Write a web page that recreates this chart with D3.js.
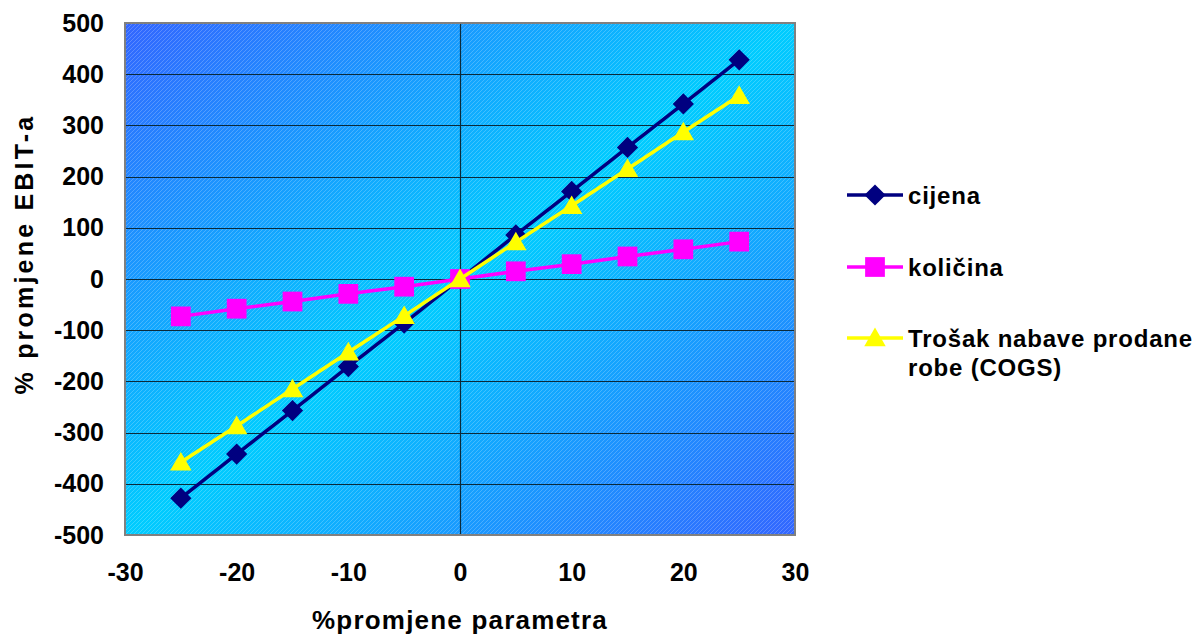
<!DOCTYPE html>
<html>
<head>
<meta charset="utf-8">
<script src="https://cdn.jsdelivr.net/npm/d3@7"></script>
<style>
  body { margin: 0; background: #fff; }
  text { font-family: "Liberation Sans", Arial, sans-serif; font-weight: bold; fill: #000; }
</style>
</head>
<body>
<div id="chart"></div>
<script>
// data
var xValues = [-25, -20, -15, -10, -5, 0, 5, 10, 15, 20, 25];
var cijena = [-428, -342, -257, -171, -86, 0, 86, 171, 257, 342, 428];
var kolicina = [-73, -58, -44, -29, -15, 0, 15, 29, 44, 58, 73];
var cogs = [-358, -287, -215, -143, -72, 0, 72, 143, 215, 287, 358];
var seriesNames = ['cijena', 'količina', 'Trošak nabave prodane|robe (COGS)'];
var xTicks = [-30, -20, -10, 0, 10, 20, 30];
var yTicks = [-500, -400, -300, -200, -100, 0, 100, 200, 300, 400, 500];

var W = 1197, H = 635;
var margin = { top: 23, right: 402, bottom: 100, left: 125 };
var width = W - margin.left - margin.right;   // 670
var height = H - margin.top - margin.bottom;  // 512

var svg = d3.select('#chart').append('svg')
  .attr('width', W).attr('height', H);

var defs = svg.append('defs');
var grad = defs.append('linearGradient')
  .attr('id', 'bg').attr('x1', 0).attr('y1', 0).attr('x2', 1).attr('y2', 1);
grad.append('stop').attr('offset', '0%').attr('stop-color', '#3366ff');
grad.append('stop').attr('offset', '50%').attr('stop-color', '#00ccff');
grad.append('stop').attr('offset', '100%').attr('stop-color', '#3366ff');

var hatch = defs.append('pattern')
  .attr('id', 'hatch').attr('patternUnits', 'userSpaceOnUse')
  .attr('width', 4).attr('height', 4);
hatch.append('path')
  .attr('d', 'M-1,1 l2,-2 M0,4 l4,-4 M3,5 l2,-2')
  .attr('stroke', '#ffffff').attr('stroke-width', 0.6).attr('opacity', 0.35);

var g = svg.append('g')
  .attr('transform', 'translate(' + margin.left + ',' + margin.top + ')');

var x = d3.scaleLinear().domain([-30, 30]).range([0, width]);
var y = d3.scaleLinear().domain([-500, 500]).range([height, 0]);

// plot area
g.append('rect').attr('width', width).attr('height', height).attr('fill', 'url(#bg)');
g.append('rect').attr('width', width).attr('height', height).attr('fill', 'url(#hatch)');

// horizontal gridlines
g.append('g').selectAll('line').data(yTicks.slice(1, -1)).enter().append('line')
  .attr('x1', 0).attr('x2', width)
  .attr('y1', function(d) { return Math.round(y(d)) + 0.5; })
  .attr('y2', function(d) { return Math.round(y(d)) + 0.5; })
  .attr('stroke', '#0a2a3a').attr('stroke-width', 1.2);

// vertical axis line at x = 0
g.append('line')
  .attr('x1', Math.round(x(0)) + 0.5).attr('x2', Math.round(x(0)) + 0.5)
  .attr('y1', 0).attr('y2', height)
  .attr('stroke', '#0a2a3a').attr('stroke-width', 1.2);

// border
g.append('rect').attr('width', width).attr('height', height)
  .attr('fill', 'none').attr('stroke', '#808080').attr('stroke-width', 2);

// axes (labels only), plain hyphen for negatives like the original
var plain = function(d) { return String(d); };

var yAxis = g.append('g')
  .call(d3.axisLeft(y).tickValues(yTicks).tickFormat(plain).tickSize(0).tickPadding(21));
yAxis.select('.domain').remove();
yAxis.selectAll('text')
  .style('font-size', '25px').style('font-family', '"Liberation Sans", Arial, sans-serif')
  .style('font-weight', 'bold').attr('fill', '#000');

var xAxis = g.append('g').attr('transform', 'translate(0,' + height + ')')
  .call(d3.axisBottom(x).tickValues(xTicks).tickFormat(plain).tickSize(0).tickPadding(28));
xAxis.select('.domain').remove();
xAxis.selectAll('text')
  .style('font-size', '25px').style('font-family', '"Liberation Sans", Arial, sans-serif')
  .style('font-weight', 'bold').attr('fill', '#000');

// axis titles
svg.append('text')
  .attr('transform', 'translate(33,254) rotate(-90)')
  .attr('text-anchor', 'middle')
  .style('font-size', '25px')
  .style('letter-spacing', '3.2px')
  .text('% promjene EBIT-a');

svg.append('text')
  .attr('x', 460).attr('y', 629)
  .attr('text-anchor', 'middle')
  .style('font-size', '26px')
  .style('letter-spacing', '1.2px')
  .text('%promjene parametra');

// series
var series = [
  { name: seriesNames[0], values: cijena, color: '#000080', symbol: d3.symbolSquare, size: 225, rot: 45 },
  { name: seriesNames[1], values: kolicina, color: '#ff00ff', symbol: d3.symbolSquare, size: 390, rot: 0 },
  { name: seriesNames[2], values: cogs, color: '#ffff00', symbol: d3.symbolTriangle, size: 200, rot: 0 }
];

var line = d3.line()
  .x(function(d) { return x(d.x); })
  .y(function(d) { return y(d.y); });

function markerTransform(s, px, py) {
  var dy = s.symbol === d3.symbolTriangle ? 2 : 0;
  return 'translate(' + px + ',' + (py + dy) + ') rotate(' + s.rot + ')';
}

series.forEach(function(s) {
  var pts = xValues.map(function(v, i) { return { x: v, y: s.values[i] }; });
  g.append('path').datum(pts)
    .attr('d', line).attr('fill', 'none')
    .attr('stroke', s.color).attr('stroke-width', 3.5);
  g.append('g').selectAll('path').data(pts).enter().append('path')
    .attr('d', d3.symbol().type(s.symbol).size(s.size))
    .attr('transform', function(d) { return markerTransform(s, x(d.x), y(d.y)); })
    .attr('fill', s.color);
});

// legend
var legendY = [195, 267, 338];
var legend = svg.append('g');
series.forEach(function(s, i) {
  var ly = legendY[i];
  legend.append('line')
    .attr('x1', 847).attr('x2', 903).attr('y1', ly).attr('y2', ly)
    .attr('stroke', s.color).attr('stroke-width', 3.5);
  legend.append('path')
    .attr('d', d3.symbol().type(s.symbol).size(s.size))
    .attr('transform', markerTransform(s, 875, ly))
    .attr('fill', s.color);
  var t = legend.append('text')
    .attr('x', 908).attr('y', ly + 9)
    .style('font-size', '24px')
    .style('letter-spacing', '0.8px');
  s.name.split('|').forEach(function(part, k) {
    t.append('tspan').attr('x', 908).attr('dy', k === 0 ? 0 : 29).text(part);
  });
});
</script>
</body>
</html>
